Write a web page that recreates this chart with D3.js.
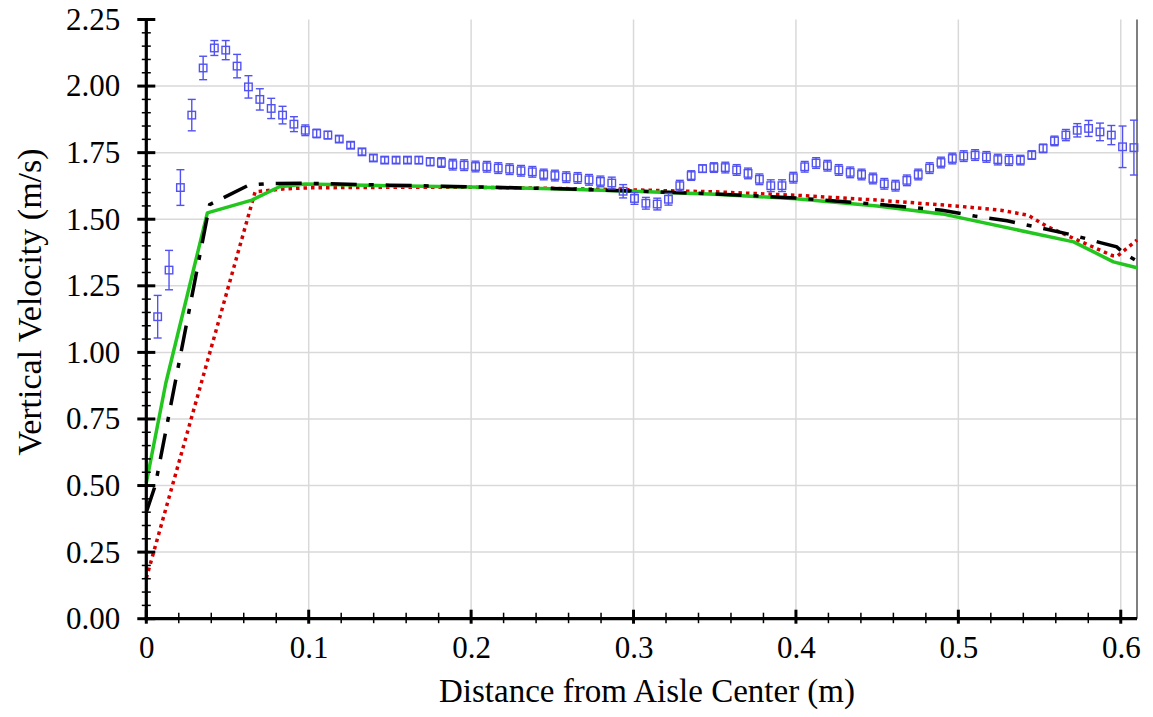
<!DOCTYPE html>
<html>
<head>
<meta charset="utf-8">
<script src="https://cdn.jsdelivr.net/npm/d3@7"></script>
<style>
  html, body { margin: 0; padding: 0; background: #ffffff; }
  svg text { font-family: "Liberation Serif", "Times New Roman", Tinos, "DejaVu Serif", serif !important; fill: #000; }
</style>
</head>
<body>
<svg id="chart" width="1153" height="717"></svg>
<script>
// Measured vertical velocity (mean with error bars)
const measX = [0.0070,0.0140,0.0210,0.0280,0.0350,0.0419,0.0489,0.0559,0.0629,0.0699,
  0.0769,0.0839,0.0909,0.0979,0.1049,0.1118,0.1188,0.1258,0.1328,0.1398,
  0.1468,0.1538,0.1608,0.1678,0.1748,0.1817,0.1887,0.1957,0.2027,0.2097,
  0.2167,0.2237,0.2307,0.2377,0.2447,0.2516,0.2586,0.2656,0.2726,0.2796,
  0.2866,0.2936,0.3006,0.3076,0.3146,0.3215,0.3285,0.3355,0.3425,0.3495,
  0.3565,0.3635,0.3705,0.3775,0.3845,0.3914,0.3984,0.4054,0.4124,0.4194,
  0.4264,0.4334,0.4404,0.4474,0.4544,0.4613,0.4683,0.4753,0.4823,0.4893,
  0.4963,0.5033,0.5103,0.5173,0.5243,0.5312,0.5382,0.5452,0.5522,0.5592,
  0.5662,0.5732,0.5802,0.5872,0.5942,0.6011,0.6081];
const measV = [1.134,1.309,1.619,1.891,2.068,2.143,2.135,2.075,1.997,1.950,
  1.916,1.891,1.857,1.834,1.822,1.816,1.801,1.778,1.753,1.730,
  1.722,1.722,1.722,1.722,1.716,1.713,1.705,1.703,1.698,1.697,
  1.692,1.688,1.682,1.678,1.668,1.664,1.658,1.655,1.648,1.642,
  1.636,1.605,1.578,1.560,1.557,1.575,1.626,1.664,1.690,1.694,
  1.694,1.685,1.672,1.650,1.626,1.626,1.656,1.697,1.711,1.701,
  1.685,1.676,1.668,1.653,1.633,1.626,1.646,1.668,1.692,1.713,
  1.728,1.737,1.741,1.734,1.724,1.722,1.722,1.741,1.766,1.794,
  1.816,1.834,1.841,1.828,1.816,1.772,1.769];
const measErr = [0.080,0.074,0.067,0.059,0.044,0.028,0.036,0.044,0.042,0.040,
  0.038,0.033,0.028,0.020,0.016,0.014,0.012,0.012,0.012,0.012,
  0.012,0.012,0.012,0.013,0.015,0.018,0.020,0.020,0.020,0.020,
  0.020,0.020,0.020,0.020,0.020,0.020,0.020,0.020,0.020,0.020,
  0.022,0.025,0.022,0.022,0.022,0.022,0.020,0.018,0.014,0.018,
  0.020,0.020,0.020,0.020,0.022,0.022,0.020,0.020,0.020,0.020,
  0.020,0.020,0.020,0.020,0.020,0.020,0.020,0.020,0.020,0.020,
  0.020,0.020,0.020,0.020,0.020,0.020,0.018,0.016,0.016,0.018,
  0.021,0.025,0.030,0.033,0.036,0.078,0.103];

// Model profiles
const greenX = [0, 0.012, 0.0376, 0.065, 0.082, 0.098, 0.15, 0.2, 0.25, 0.3, 0.35, 0.4, 0.45, 0.49, 0.571, 0.5955, 0.61];
const greenV = [0.51, 0.884, 1.524, 1.572, 1.622, 1.632, 1.626, 1.621, 1.614, 1.605, 1.594, 1.577, 1.550, 1.520, 1.415, 1.340, 1.318];

const blackX = [0, 0.0055, 0.039, 0.063, 0.075, 0.1, 0.15, 0.2, 0.25, 0.3, 0.35, 0.4, 0.45, 0.49, 0.51, 0.53, 0.55, 0.571, 0.588, 0.5975, 0.6025, 0.61];
const blackV = [0.40, 0.50, 1.555, 1.628, 1.634, 1.635, 1.628, 1.622, 1.615, 1.606, 1.595, 1.580, 1.556, 1.534, 1.512, 1.494, 1.468, 1.440, 1.411, 1.396, 1.370, 1.343];

const redX = [0, 0.067, 0.085, 0.1, 0.15, 0.2, 0.25, 0.3, 0.35, 0.4, 0.45, 0.5, 0.526, 0.543, 0.554, 0.571, 0.585, 0.595, 0.598, 0.61];
const redV = [0.152, 1.603, 1.614, 1.618, 1.620, 1.620, 1.616, 1.610, 1.603, 1.590, 1.572, 1.549, 1.534, 1.515, 1.475, 1.428, 1.390, 1.363, 1.362, 1.422];

// Axis ticks
const xTicks = [0, 0.1, 0.2, 0.3, 0.4, 0.5, 0.6];
const xTickLabels = ["0", "0.1", "0.2", "0.3", "0.4", "0.5", "0.6"];
const yTicks = [0, 0.25, 0.5, 0.75, 1.0, 1.25, 1.5, 1.75, 2.0, 2.25];
const yTickLabels = ["0.00", "0.25", "0.50", "0.75", "1.00", "1.25", "1.50", "1.75", "2.00", "2.25"];

const FONT = '"Liberation Serif", "Times New Roman", Tinos, "DejaVu Serif", serif';
const svg = d3.select("#chart");
const plotL = 146.3, plotR = 1137, plotT = 19.5, plotB = 618.7;

const x = d3.scaleLinear().domain([0, 0.61]).range([plotL, plotR]);
const y = d3.scaleLinear().domain([0, 2.25]).range([plotB, plotT]);

// grid
const grid = svg.append("g").attr("stroke", "#d9d9d9").attr("stroke-width", 1.5);
grid.selectAll("line.gx").data(xTicks.filter(d => d > 0)).join("line")
  .attr("x1", d => x(d)).attr("x2", d => x(d)).attr("y1", plotT).attr("y2", plotB);
grid.selectAll("line.gy").data(yTicks.filter(d => d > 0 && d < 2.25)).join("line")
  .attr("x1", plotL).attr("x2", plotR).attr("y1", d => y(d)).attr("y2", d => y(d));

// right frame edge
svg.append("line").attr("x1", plotR).attr("x2", plotR).attr("y1", plotT).attr("y2", plotB)
  .attr("stroke", "#555").attr("stroke-width", 1.5);

// model lines
const line = (xs, vs) => d3.line().x((d, i) => x(xs[i])).y(d => y(d))(vs);
svg.append("path").attr("d", line(redX, redV)).attr("fill", "none")
  .attr("stroke", "#d40000").attr("stroke-width", 3.5).attr("stroke-dasharray", "3.5,4");
svg.append("path").attr("d", line(greenX, greenV)).attr("fill", "none")
  .attr("stroke", "#22c61e").attr("stroke-width", 3.5).attr("stroke-linejoin", "round");
svg.append("path").attr("d", line(blackX, blackV)).attr("fill", "none")
  .attr("stroke", "#000").attr("stroke-width", 3.5).attr("stroke-dasharray", "26,12,5,12");

// measured data with error bars
const blue = "#5252f2";
const meas = measX.map((d, i) => ({ x: d, v: measV[i], e: measErr[i] }));
const mg = svg.append("g").attr("stroke", blue).attr("stroke-width", 1.4).attr("fill", "none");
const pt = mg.selectAll("g").data(meas).join("g");
pt.append("line").attr("x1", d => x(d.x)).attr("x2", d => x(d.x))
  .attr("y1", d => y(d.v + d.e)).attr("y2", d => y(d.v - d.e));
pt.append("line").attr("x1", d => x(d.x) - 4).attr("x2", d => x(d.x) + 4)
  .attr("y1", d => y(d.v + d.e)).attr("y2", d => y(d.v + d.e));
pt.append("line").attr("x1", d => x(d.x) - 4).attr("x2", d => x(d.x) + 4)
  .attr("y1", d => y(d.v - d.e)).attr("y2", d => y(d.v - d.e));
pt.append("rect").attr("x", d => x(d.x) - 3.75).attr("y", d => y(d.v) - 3.75)
  .attr("width", 7.5).attr("height", 7.5).attr("fill", "none");

// axes: labels via d3 axes, ticks drawn from the scales
const yAxis = svg.append("g").attr("transform", `translate(${plotL},0)`)
  .call(d3.axisLeft(y).tickValues(yTicks).tickFormat((d, i) => yTickLabels[i]).tickSize(0).tickPadding(26));
const xAxis = svg.append("g").attr("transform", `translate(0,${plotB})`)
  .call(d3.axisBottom(x).tickValues(xTicks).tickFormat((d, i) => xTickLabels[i]).tickSize(0).tickPadding(17));
[yAxis, xAxis].forEach(a => {
  a.attr("font-family", FONT).attr("font-size", 31);
  a.select(".domain").remove();
  a.selectAll("text").attr("font-size", 31).style("font-family", FONT);
});

const ax = svg.append("g").attr("stroke", "#000");
// minor ticks
ax.selectAll("line.my").data(y.ticks(45).filter(d => Math.abs(d / 0.25 - Math.round(d / 0.25)) > 1e-6)).join("line")
  .attr("x1", plotL - 4.5).attr("x2", plotL + 4.5).attr("y1", d => y(d)).attr("y2", d => y(d)).attr("stroke-width", 1.5);
ax.selectAll("line.mx").data(x.ticks(30).filter(d => Math.abs(d / 0.1 - Math.round(d / 0.1)) > 1e-6)).join("line")
  .attr("x1", d => x(d)).attr("x2", d => x(d)).attr("y1", plotB - 6).attr("y2", plotB + 4.5).attr("stroke-width", 1.5);
// major ticks
ax.selectAll("line.My").data(yTicks).join("line")
  .attr("x1", plotL - 9).attr("x2", plotL + 9).attr("y1", d => y(d)).attr("y2", d => y(d)).attr("stroke-width", 3);
ax.selectAll("line.Mx").data(xTicks).join("line")
  .attr("x1", d => x(d)).attr("x2", d => x(d)).attr("y1", plotB - 9).attr("y2", plotB + 5).attr("stroke-width", 3);
// axis lines
ax.append("line").attr("x1", plotL).attr("x2", plotL).attr("y1", plotT).attr("y2", plotB + 1.5).attr("stroke-width", 3.2);
ax.append("line").attr("x1", plotL - 1.5).attr("x2", plotR).attr("y1", plotB).attr("y2", plotB).attr("stroke-width", 3.2);

// axis titles
svg.append("text").attr("x", 647).attr("y", 702)
  .attr("text-anchor", "middle").attr("font-size", 33).style("font-family", FONT)
  .text("Distance from Aisle Center (m)");
svg.append("text").attr("transform", `translate(41,${302}) rotate(-90)`)
  .attr("text-anchor", "middle").attr("font-size", 34).style("font-family", FONT)
  .text("Vertical Velocity (m/s)");
</script>
</body>
</html>
